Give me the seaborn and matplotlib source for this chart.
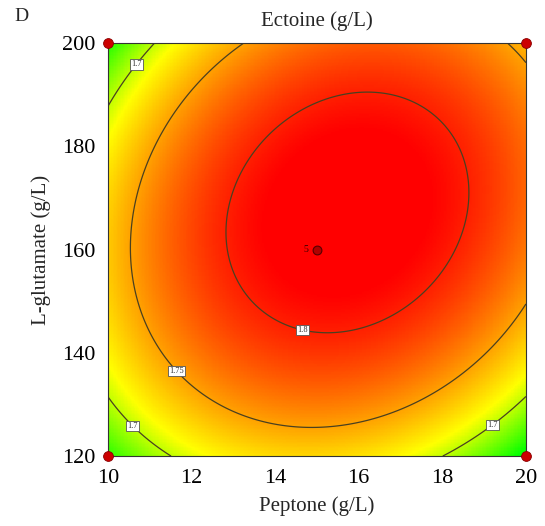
import numpy as np
import pandas as pd
import matplotlib
matplotlib.use("Agg")
import matplotlib.pyplot as plt
from matplotlib.colors import LinearSegmentedColormap
import seaborn as sns

# Axis ranges (actual units)
peptone_range = [10, 20]
glutamate_range = [120, 200]
x_ticks = [10, 12, 14, 16, 18, 20]
y_ticks = [120, 140, 160, 180, 200]

# Quadratic response-surface model (coded units)
y_max = 1.8228
a_opt = 0.146
b_opt = 0.18
k_aa = 0.0694
k_bb = 0.0690
k_ab = 0.0228

contour_levels = [1.7, 1.75, 1.8]

# Design points shown
corner_x = [10, 10, 20, 20]
corner_y = [120, 200, 120, 200]
center_x = [15]
center_y = [160]
center_reps = "5"

sns.set_theme(style="white")
plt.rcParams['font.family'] = ['Liberation Serif', 'DejaVu Serif']

xs = np.linspace(peptone_range[0], peptone_range[1], 300)
ys = np.linspace(glutamate_range[0], glutamate_range[1], 300)
X, Y = np.meshgrid(xs, ys)
A = (X - 15) / 5
B = (Y - 160) / 40
u = A - a_opt
v = B - b_opt
Z = y_max - k_aa * u**2 - k_bb * v**2 + k_ab * u * v

vmin, vmax, vyellow = 1.658, 1.812, 1.714
cmap = LinearSegmentedColormap.from_list(
    "de", [(0.0, (0.0, 1.0, 0.0)), ((vyellow - vmin) / (vmax - vmin), (1.0, 1.0, 0.0)),
           (1.0, (1.0, 0.0, 0.0))])

fig = plt.figure(figsize=(5.45, 5.26), dpi=100)
ax = fig.add_axes([0.198, 0.133, 0.767, 0.785])
ax.pcolormesh(X, Y, Z, cmap=cmap, vmin=vmin, vmax=vmax, shading="auto", rasterized=True)
cs = ax.contour(X, Y, Z, levels=contour_levels, colors="#4a4020", linewidths=0.9)
labels = ax.clabel(cs, fmt={1.7: "1.7", 1.75: "1.75", 1.8: "1.8"}, fontsize=6, inline=False,
                   manual=[(10.5, 197), (10.6, 126), (19.2, 126), (11.7, 137), (14.7, 146)])
for t in labels:
    t.set_rotation(0)
    t.set_bbox(dict(facecolor="white", edgecolor="#555555", pad=0.8, linewidth=0.6))
    t.set_color("#333333")

pts = pd.DataFrame({"x": corner_x, "y": corner_y})
sns.scatterplot(data=pts, x="x", y="y", ax=ax, color="#cc0000", s=50, edgecolor="#880000",
                linewidth=0.6, clip_on=False, zorder=10, legend=False)
cpts = pd.DataFrame({"x": center_x, "y": center_y})
sns.scatterplot(data=cpts, x="x", y="y", ax=ax, color="#b00000", s=40, edgecolor="#550000",
                linewidth=0.8, zorder=10, legend=False)
ax.text(center_x[0] - 0.2, center_y[0], center_reps, fontsize=7, color="#330000",
        ha="right", va="center")

ax.set_xlim(peptone_range)
ax.set_ylim(glutamate_range)
ax.set_xticks(x_ticks)
ax.set_yticks(y_ticks)
ax.tick_params(direction="in", length=3, labelsize=16, width=0.8, colors="black",
               bottom=True, left=True, pad=9)
ax.set_xlabel("Peptone (g/L)", fontsize=15, labelpad=6)
ax.set_ylabel("L-glutamate (g/L)", fontsize=15, labelpad=8)
ax.set_title("Ectoine (g/L)", fontsize=15, pad=12)
for s in ax.spines.values():
    s.set_color("#333333")
    s.set_linewidth(0.8)
fig.text(0.026, 0.968, "D", fontsize=14, ha="left", va="center")

fig.savefig("out.png", dpi=100)
